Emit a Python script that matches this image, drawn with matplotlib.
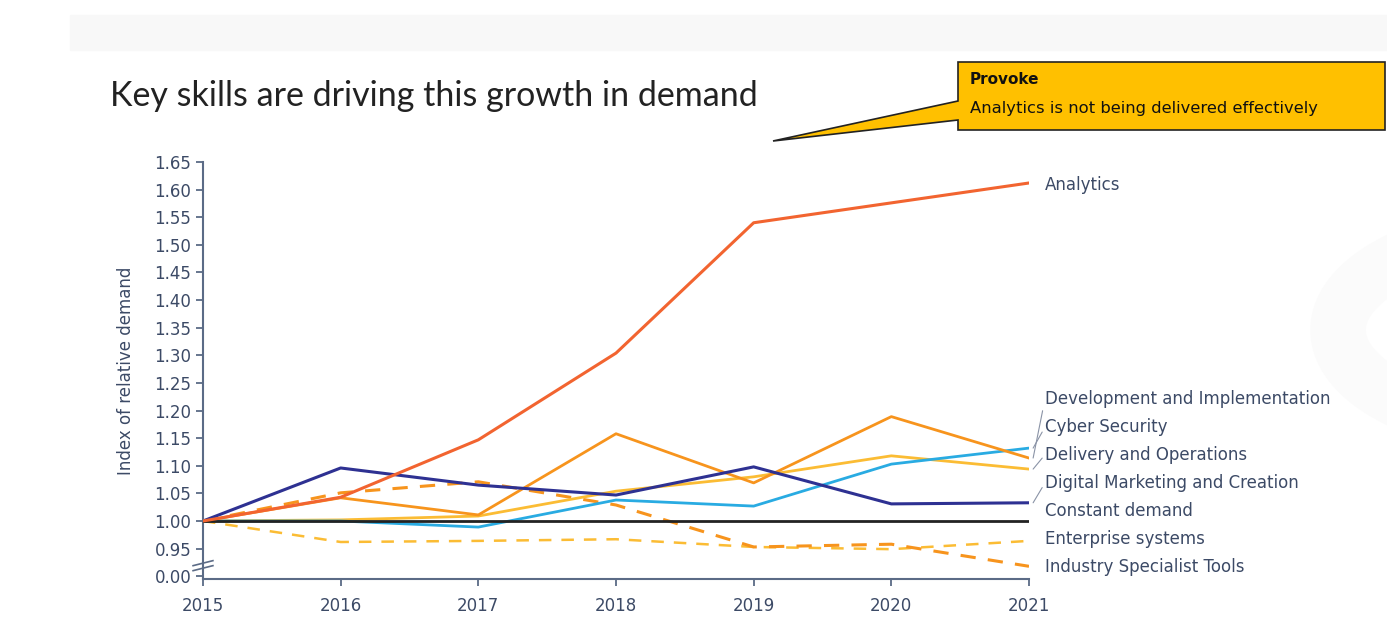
import matplotlib.pyplot as plt
import matplotlib.patches as mpatches

years = [2015, 2016, 2017, 2018, 2019, 2020, 2021]

analytics = [1.00, 1.043, 1.147, 1.304, 1.540, 1.576, 1.612]
dev_impl = [1.00, 1.042, 1.011, 1.158, 1.069, 1.189, 1.114]
cyber = [1.00, 1.000, 0.989, 1.038, 1.027, 1.103, 1.132]
delivery = [1.00, 1.002, 1.009, 1.054, 1.080, 1.118, 1.094]
digital = [1.00, 1.096, 1.065, 1.047, 1.098, 1.031, 1.033]
constant = [1.00, 1.00, 1.00, 1.00, 1.00, 1.00, 1.00]
enterprise = [1.00, 0.962, 0.964, 0.967, 0.953, 0.949, 0.964]
industry = [1.00, 1.051, 1.071, 1.029, 0.953, 0.958, 0.918]

series_names = ['Analytics', 'Development and Implementation', 'Cyber Security',
                'Delivery and Operations', 'Digital Marketing and Creation',
                'Constant demand', 'Enterprise systems', 'Industry Specialist Tools']
# where the right-hand labels sit (data y)
label_y = [1.609, 1.221, 1.170, 1.120, 1.069, 1.018, 0.967, 0.917]

yticks = [0.90, 0.95, 1.00, 1.05, 1.10, 1.15, 1.20, 1.25, 1.30, 1.35, 1.40,
          1.45, 1.50, 1.55, 1.60, 1.65]
ytick_labels = ['0.00'] + ['%.2f' % v for v in yticks[1:]]

W, H = 1387, 638
fig = plt.figure(figsize=(13.87, 6.38), dpi=100)
fig.patch.set_facecolor('white')

def px(x, y):
    return (x / W, 1 - y / H)

# faint background decoration
fig.patches.append(mpatches.Rectangle(px(70, 50), (W - 70) / W, 35 / H,
                                      transform=fig.transFigure, color='#f8f8f8', zorder=0))
fig.patches.append(mpatches.Circle(px(1560, 330), 0.16, transform=fig.transFigure,
                                   facecolor='none', edgecolor='#fbfbfb', lw=40, zorder=0))

ax = fig.add_axes([203 / W, 1 - 579 / H, 826 / W, (579 - 162) / H])
ax.set_facecolor('none')

c_axis = '#5b6b86'
c_text = '#3c4a66'

ax.plot(years, constant, color='#222222', lw=2.0, zorder=3)
ax.plot(years, enterprise, color='#fbbc34', lw=1.8, ls=(0, (5, 4)), zorder=2)
ax.plot(years, industry, color='#f7941d', lw=2.2, ls=(0, (5, 4)), zorder=2)
ax.plot(years, delivery, color='#fbbc34', lw=2.0, zorder=2)
ax.plot(years, cyber, color='#29abe2', lw=2.0, zorder=2)
ax.plot(years, dev_impl, color='#f7941d', lw=2.0, zorder=2)
ax.plot(years, digital, color='#2e3192', lw=2.2, zorder=2)
ax.plot(years, analytics, color='#f26430', lw=2.2, zorder=4)

ax.set_xlim(2015, 2021)
ax.set_ylim(0.895, 1.65)
ax.set_xticks(years)
ax.set_yticks(yticks)
ax.set_yticklabels(ytick_labels)
for s in ['top', 'right']:
    ax.spines[s].set_visible(False)
for s in ['left', 'bottom']:
    ax.spines[s].set_color(c_axis)
    ax.spines[s].set_linewidth(1.5)
ax.tick_params(axis='both', colors=c_axis, labelcolor=c_text, labelsize=12, length=5, width=1.3)
ax.tick_params(axis='x', pad=8)
ax.set_ylabel('Index of relative demand', color=c_text, fontsize=12, labelpad=14)

# axis break mark
for dy in (0.0, 0.012):
    ax.plot([-0.012, 0.012], [0.020 + dy, 0.032 + dy], transform=ax.transAxes,
            color=c_axis, lw=1.2, clip_on=False)

# right-hand labels with leader lines
end_vals = [analytics[-1], dev_impl[-1], cyber[-1], delivery[-1], digital[-1],
            constant[-1], enterprise[-1], industry[-1]]
for i, (name, ly) in enumerate(zip(series_names, label_y)):
    if i in (1, 2, 3, 4):
        ax.annotate(name, xy=(2021.03, end_vals[i]), xytext=(2021.116, ly),
                    va='center', ha='left', fontsize=12, color=c_text,
                    annotation_clip=False,
                    arrowprops=dict(arrowstyle='-', color='#8a93a6', lw=0.8,
                                    shrinkA=0, shrinkB=0, relpos=(0, 0.5)))
    else:
        ax.text(2021.116, ly, name, va='center', ha='left', fontsize=12, color=c_text)

fig.text(110 / W, 1 - 96 / H, 'Key skills are driving this growth in demand',
         fontsize=24.5, color='#222222', va='center', ha='left', family='Lato')

# callout
pts = [px(958, 62), px(1385, 62), px(1385, 130), px(958, 130), px(958, 120),
       px(773, 141), px(958, 101)]
fig.patches.append(mpatches.Polygon(pts, closed=True, transform=fig.transFigure,
                                    facecolor='#ffc000', edgecolor='#222222', lw=1.2, zorder=5))
fig.text(970 / W, 1 - 79 / H, 'Provoke', fontsize=11, fontweight='bold',
         color='#111111', va='center', ha='left', zorder=6)
fig.text(970 / W, 1 - 109 / H, 'Analytics is not being delivered effectively',
         fontsize=11.8, color='#111111', va='center', ha='left', zorder=6)

fig.savefig('out.png', dpi=100)
